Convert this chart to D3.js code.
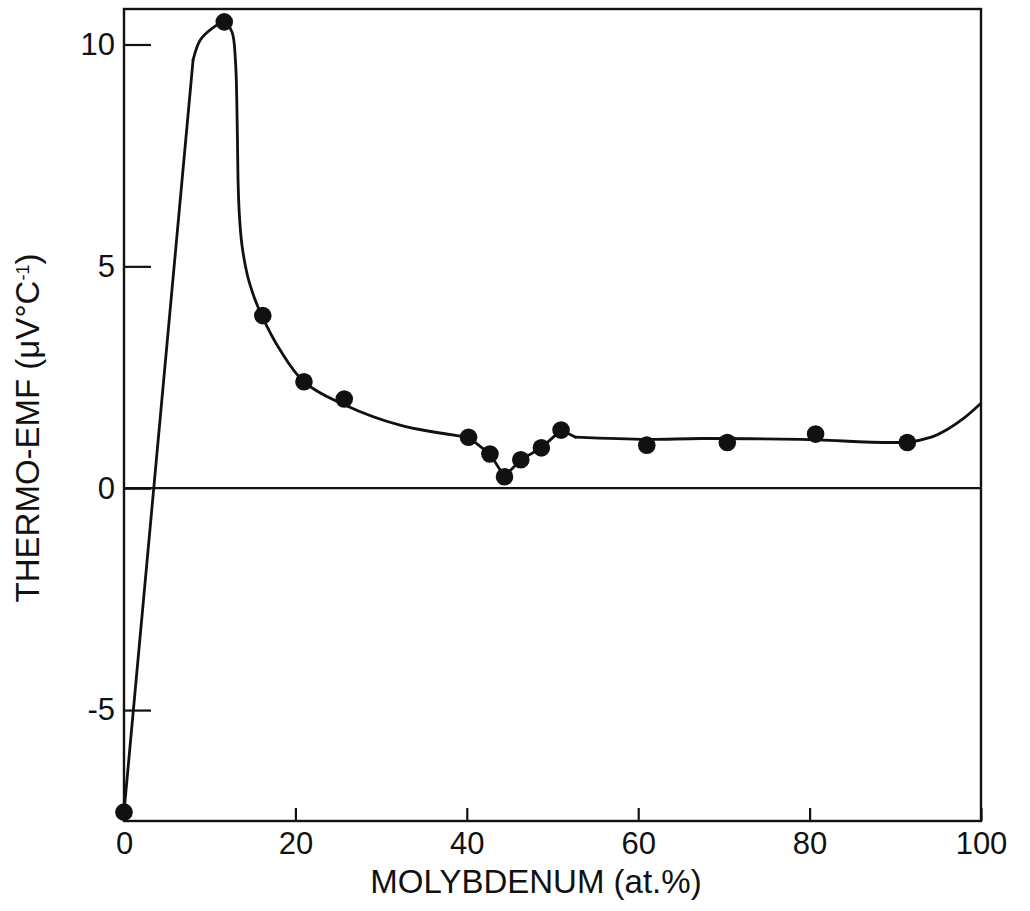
<!DOCTYPE html>
<html>
<head>
<meta charset="utf-8">
<script src="https://cdn.jsdelivr.net/npm/d3@7"></script>
<style>
  html, body { margin: 0; padding: 0; background: #fff; }
  svg { display: block; font-family: "Liberation Sans", Arial, Helvetica, sans-serif; }
</style>
</head>
<body>
<svg id="chart" width="1030" height="911"></svg>
<script>
// ---- data ----
const xTicks = [0, 20, 40, 60, 80, 100];
const yTicks = [10, 5, 0, -5];

// measured points: molybdenum (at.%) and thermo-EMF (µV/°C)
const moPoints  = [0, 11.7, 16.2, 21.0, 25.7, 40.2, 42.7, 44.4, 46.3, 48.7, 51.0, 61.0, 70.4, 80.7, 91.4];
const emfPoints = [-7.3, 10.51, 3.89, 2.40, 2.01, 1.15, 0.77, 0.26, 0.64, 0.91, 1.31, 0.97, 1.03, 1.22, 1.03];

// drawn trend curve, in pieces: straight rise, smooth peak + decay, straight dip, smooth tail
const riseMo   = [0, 8.06];
const riseEmf  = [-7.3, 9.65];
const decayMo  = [8.06, 8.9, 10.4, 11.7, 12.6, 13.0, 13.2, 13.3, 13.45, 13.75, 14.4, 15.2, 16.1, 18.2, 21.0, 25.7, 32.2, 40.2];
const decayEmf = [9.65, 10.1, 10.38, 10.51, 10.28, 9.65, 8.3, 7.0, 6.2, 5.5, 4.8, 4.3, 3.88, 3.12, 2.40, 1.88, 1.42, 1.15];
const dipMo    = [40.2, 42.7, 44.4, 46.3, 48.7, 51.0, 52.7];
const dipEmf   = [1.15, 0.77, 0.26, 0.64, 0.91, 1.31, 1.15];
const tailMo   = [52.7, 61.0, 67.3, 79.0, 91.4, 94.2, 96.1, 98.0, 99.9];
const tailEmf  = [1.15, 1.10, 1.12, 1.10, 1.04, 1.15, 1.33, 1.58, 1.9];

const xTitle = "MOLYBDENUM (at.%)";
const yTitle = "THERMO-EMF (μV°C";
const ySup = "-1";

// ---- layout ----
const svg = d3.select("#chart");
const x = d3.scaleLinear().domain([0, 100]).range([124, 981]);
const y = d3.scaleLinear().domain([-7.5, 10.8]).range([821, 9]);

const ink = "#111";
const font = "Liberation Sans, Arial, sans-serif";

// frame
svg.append("rect")
  .attr("x", x(0)).attr("y", y(10.8))
  .attr("width", x(100) - x(0)).attr("height", y(-7.5) - y(10.8))
  .attr("fill", "none").attr("stroke", ink).attr("stroke-width", 2.4);

// zero line
svg.append("line")
  .attr("x1", x(0)).attr("x2", x(100))
  .attr("y1", y(0)).attr("y2", y(0))
  .attr("stroke", ink).attr("stroke-width", 2.2);

// x axis (ticks pointing inward/up)
const xAxis = d3.axisBottom(x).tickValues(xTicks).tickFormat(d => String(d))
  .tickSizeInner(-13).tickSizeOuter(0).tickPadding(11);
const gx = svg.append("g").attr("transform", `translate(0,${y(-7.5)})`).call(xAxis);
gx.select(".domain").remove();
gx.selectAll("line").attr("stroke", ink).attr("stroke-width", 2.2);
gx.selectAll("text").attr("fill", ink).attr("font-size", 31).attr("font-family", font);

// y axis (ticks pointing inward/right)
const yAxis = d3.axisLeft(y).tickValues(yTicks).tickFormat(d => String(d))
  .tickSizeInner(-27).tickSizeOuter(0).tickPadding(9);
const gy = svg.append("g").attr("transform", `translate(${x(0)},0)`).call(yAxis);
gy.select(".domain").remove();
gy.selectAll("line").attr("stroke", ink).attr("stroke-width", 2.2);
gy.selectAll("text").attr("fill", ink).attr("font-size", 31).attr("font-family", font);

// curve pieces
const toPairs = (ms, es) => ms.map((m, i) => [m, es[i]]);
const lineLinear = d3.line().x(d => x(d[0])).y(d => y(d[1])).curve(d3.curveLinear);
const lineSmooth = d3.line().x(d => x(d[0])).y(d => y(d[1])).curve(d3.curveCatmullRom.alpha(0.5));
const pieces = [
  [toPairs(riseMo, riseEmf), lineLinear],
  [toPairs(decayMo, decayEmf), lineSmooth],
  [toPairs(dipMo, dipEmf), lineLinear],
  [toPairs(tailMo, tailEmf), lineSmooth]
];
pieces.forEach(([data, gen]) => {
  svg.append("path").datum(data)
    .attr("d", gen).attr("fill", "none").attr("stroke", ink)
    .attr("stroke-width", 2.8).attr("stroke-linejoin", "round").attr("stroke-linecap", "round");
});

// points
const pts = toPairs(moPoints, emfPoints);
svg.append("g").selectAll("circle").data(pts).join("circle")
  .attr("cx", d => x(d[0])).attr("cy", d => y(d[1])).attr("r", 8.8).attr("fill", ink);

// axis titles
svg.append("text")
  .attr("x", 536).attr("y", 893)
  .attr("text-anchor", "middle").attr("font-size", 33).attr("fill", ink)
  .text(xTitle);

const yt = svg.append("text")
  .attr("transform", `translate(39,428) rotate(-90)`)
  .attr("text-anchor", "middle").attr("font-size", 33).attr("fill", ink);
yt.append("tspan").text(yTitle);
yt.append("tspan").attr("font-size", 18).attr("baseline-shift", "super").text(ySup);
yt.append("tspan").text(")");
</script>
</body>
</html>
